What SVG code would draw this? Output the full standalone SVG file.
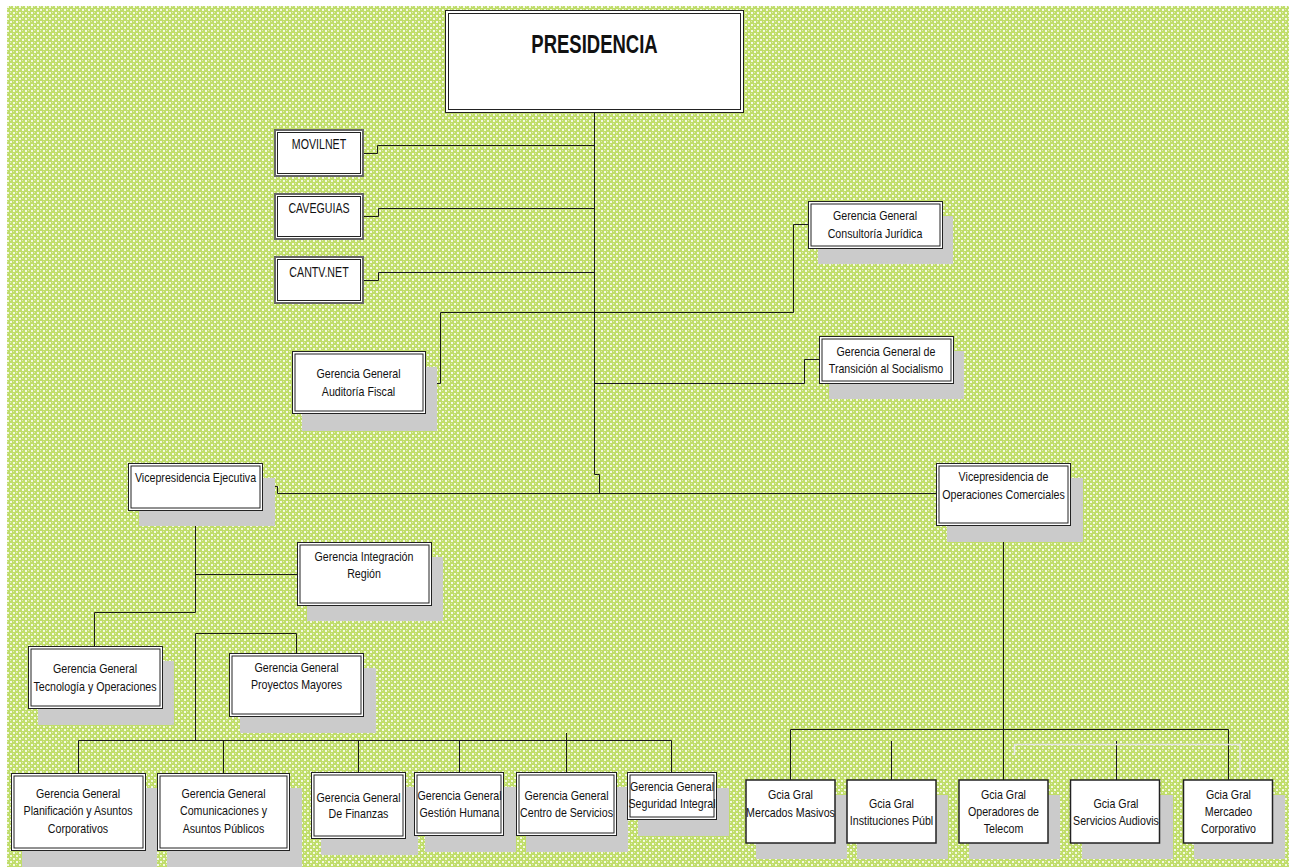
<svg xmlns="http://www.w3.org/2000/svg" width="1293" height="867" viewBox="0 0 1293 867">
<defs>
<pattern id="bg" x="7" y="6" width="6" height="6" patternUnits="userSpaceOnUse">
<rect width="6" height="6" fill="#c0dd6a"/>
<rect x="0" y="0" width="2" height="2" fill="#f4f9e4"/>
<rect x="3" y="3" width="2" height="2" fill="#f4f9e4"/>
<rect x="3" y="0" width="1" height="1" fill="#dcedb0"/>
<rect x="0" y="3" width="1" height="1" fill="#dcedb0"/>
</pattern>
<style>
.sh{fill:#cbcbcb}
.o{fill:#fff;stroke:#222;stroke-width:1}
.i{fill:none;stroke:#222;stroke-width:1}
.o2{fill:#fff;stroke:#666;stroke-width:2}
.s{fill:#fff;stroke:#222;stroke-width:1.5}
.t{font-family:"Liberation Sans",Arial,sans-serif;font-size:13px;fill:#111;text-anchor:middle}
.tb{font-family:"Liberation Sans",Arial,sans-serif;font-size:25px;font-weight:bold;fill:#111;text-anchor:middle}
.c{fill:none;stroke:#1a1a1a;stroke-width:1}
.cg{fill:none;stroke:#e4e4e4;stroke-width:1.5}
</style>
</defs>
<rect width="1293" height="867" fill="#fff"/>
<rect x="7" y="6" width="1282" height="861" fill="url(#bg)"/>

<g id="connectors">
<path class="c" d="M594.5,113 V474.5 H599.5 V493.5"/>
<path class="c" d="M262,486.5 H277.5 V493.5 H936"/>
<path class="c" d="M364,153.5 H377.5 V145.5 H594.5"/>
<path class="c" d="M364,216.5 H378.5 V208.5 H594.5"/>
<path class="c" d="M364,280.5 H378.5 V272.5 H594.5"/>
<path class="c" d="M426,383.5 H440.5 V312.5 H793.5 V224.5 H808"/>
<path class="c" d="M594.5,383.5 H804.5 V359.5 H819"/>
<path class="c" d="M195.5,511 V612.5 H94.5 V646"/>
<path class="c" d="M195.5,574.5 H297"/>
<path class="c" d="M195.5,740.5 V633.5 H296.5 V653"/>
<path class="c" d="M78.5,773 V740.5 H671.5 V772"/>
<path class="c" d="M223.5,740.5 V773"/>
<path class="c" d="M358.5,740.5 V772"/>
<path class="c" d="M459.5,740.5 V772"/>
<path class="c" d="M566.5,733 V772"/>
<path class="c" d="M1003.5,526 V780"/>
<path class="c" d="M790.5,780 V729.5 H1228.5 V780"/>
<path class="c" d="M891.5,741 V780"/>
<path class="c" d="M1116.5,741 V780"/>
<path class="cg" d="M1014.5,755 V744.5 H1240 V772"/>
</g>

<g id="presidencia">
<rect class="o" x="445.5" y="10.5" width="298" height="102"/>
<rect class="i" x="448.5" y="13.5" width="292" height="96"/>
<text class="tb" transform="translate(594.5,53) scale(0.74,1)">PRESIDENCIA</text>
</g>

<g id="movilnet">
<rect class="o2" x="275" y="130" width="88" height="46"/>
<rect class="i" x="277.5" y="132.5" width="83" height="41"/>
<text class="t" transform="translate(319,149) scale(0.76,1)" style="font-size:14px">MOVILNET</text>
</g>

<g id="caveguias">
<rect class="o2" x="275" y="194" width="88" height="45"/>
<rect class="i" x="277.5" y="196.5" width="83" height="40"/>
<text class="t" transform="translate(319,213) scale(0.76,1)" style="font-size:14px">CAVEGUIAS</text>
</g>

<g id="cantvnet">
<rect class="o2" x="275" y="257" width="88" height="46"/>
<rect class="i" x="277.5" y="259.5" width="83" height="41"/>
<text class="t" transform="translate(319,276.5) scale(0.76,1)" style="font-size:14px">CANTV.NET</text>
</g>

<g id="consultoria">
<rect class="sh" x="818" y="216" width="135" height="48"/>
<rect class="o" x="808.5" y="201.5" width="134" height="47"/>
<rect class="i" x="811" y="204" width="129" height="42"/>
<text class="t" transform="translate(875,220) scale(0.82,1)"><tspan x="0">Gerencia General</tspan><tspan x="0" dy="18">Consultoría Jurídica</tspan></text>
</g>

<g id="auditoria">
<rect class="sh" x="302" y="367" width="135" height="64"/>
<rect class="o" x="292.5" y="351.5" width="133" height="62"/>
<rect class="i" x="295" y="354" width="128" height="57"/>
<text class="t" transform="translate(358.5,378) scale(0.82,1)"><tspan x="0">Gerencia General</tspan><tspan x="0" dy="18">Auditoría Fiscal</tspan></text>
</g>

<g id="transicion">
<rect class="sh" x="829" y="351" width="135" height="48"/>
<rect class="o" x="819.5" y="336.5" width="134" height="47"/>
<rect class="i" x="822" y="339" width="129" height="42"/>
<text class="t" transform="translate(886,356) scale(0.82,1)"><tspan x="0">Gerencia General de</tspan><tspan x="0" dy="17">Transición al Socialismo</tspan></text>
</g>

<g id="vp-ejecutiva">
<rect class="sh" x="139" y="478" width="136" height="48"/>
<rect class="o" x="128.5" y="463.5" width="134" height="47"/>
<rect class="i" x="131" y="466" width="129" height="42"/>
<text class="t" transform="translate(195.5,482) scale(0.82,1)">Vicepresidencia Ejecutiva</text>
</g>

<g id="integracion">
<rect class="sh" x="307" y="557" width="136" height="64"/>
<rect class="o" x="297.5" y="542.5" width="134" height="63"/>
<rect class="i" x="300" y="545" width="129" height="58"/>
<text class="t" transform="translate(364,561) scale(0.82,1)"><tspan x="0">Gerencia Integración</tspan><tspan x="0" dy="17.5">Región</tspan></text>
</g>

<g id="vp-operaciones">
<rect class="sh" x="947" y="478" width="136" height="64"/>
<rect class="o" x="936.5" y="463.5" width="134" height="62"/>
<rect class="i" x="939" y="466" width="129" height="57"/>
<text class="t" transform="translate(1003.5,481) scale(0.82,1)"><tspan x="0">Vicepresidencia de</tspan><tspan x="0" dy="18.5">Operaciones Comerciales</tspan></text>
</g>

<g id="tecnologia">
<rect class="sh" x="38" y="661" width="136" height="64"/>
<rect class="o" x="28.5" y="646.5" width="134" height="62"/>
<rect class="i" x="31" y="649" width="129" height="57"/>
<text class="t" transform="translate(95,673) scale(0.82,1)"><tspan x="0">Gerencia General</tspan><tspan x="0" dy="18">Tecnología y Operaciones</tspan></text>
</g>

<g id="proyectos">
<rect class="sh" x="240" y="668" width="136" height="65"/>
<rect class="o" x="229.5" y="653.5" width="134" height="63"/>
<rect class="i" x="232" y="656" width="129" height="58"/>
<text class="t" transform="translate(296.5,672) scale(0.82,1)"><tspan x="0">Gerencia General</tspan><tspan x="0" dy="17">Proyectos Mayores</tspan></text>
</g>

<g id="planificacion">
<rect class="sh" x="22" y="788" width="135" height="79"/>
<rect class="o" x="11.5" y="773.5" width="134" height="77"/>
<rect class="i" x="14" y="776" width="129" height="72"/>
<text class="t" transform="translate(78,798) scale(0.82,1)"><tspan x="0">Gerencia General</tspan><tspan x="0" dy="17.5">Planificación y Asuntos</tspan><tspan x="0" dy="17.5">Corporativos</tspan></text>
</g>

<g id="comunicaciones">
<rect class="sh" x="167" y="788" width="135" height="79"/>
<rect class="o" x="157.5" y="773.5" width="132" height="77"/>
<rect class="i" x="160" y="776" width="127" height="72"/>
<text class="t" transform="translate(223.5,798) scale(0.82,1)"><tspan x="0">Gerencia General</tspan><tspan x="0" dy="17.5">Comunicaciones y</tspan><tspan x="0" dy="17.5">Asuntos Públicos</tspan></text>
</g>

<g id="finanzas">
<rect class="sh" x="321" y="787" width="97" height="68"/>
<rect class="o" x="311.5" y="772.5" width="94" height="66"/>
<rect class="i" x="314" y="775" width="89" height="61"/>
<text class="t" transform="translate(358.5,802) scale(0.82,1)"><tspan x="0">Gerencia General</tspan><tspan x="0" dy="16.5">De Finanzas</tspan></text>
</g>

<g id="gestion-humana">
<rect class="sh" x="425" y="787" width="91" height="65"/>
<rect class="o" x="414.5" y="772.5" width="89" height="63"/>
<rect class="i" x="417" y="775" width="84" height="58"/>
<text class="t" transform="translate(459.5,800) scale(0.82,1)"><tspan x="0">Gerencia General</tspan><tspan x="0" dy="16.8">Gestión Humana</tspan></text>
</g>

<g id="centro-servicios">
<rect class="sh" x="526" y="787" width="102" height="65"/>
<rect class="o" x="516.5" y="772.5" width="100" height="63"/>
<rect class="i" x="519" y="775" width="95" height="58"/>
<text class="t" transform="translate(566.5,799.5) scale(0.82,1)"><tspan x="0">Gerencia General</tspan><tspan x="0" dy="17.3">Centro de Servicios</tspan></text>
</g>

<g id="seguridad">
<rect class="sh" x="638" y="788" width="91" height="48"/>
<rect class="o" x="627.5" y="772.5" width="89" height="47"/>
<rect class="i" x="630" y="775" width="84" height="42"/>
<text class="t" transform="translate(672,791) scale(0.82,1)"><tspan x="0">Gerencia General</tspan><tspan x="0" dy="17.5">Seguridad Integral</tspan></text>
</g>

<g id="mercados-masivos">
<rect class="sh" x="756" y="795" width="91" height="64"/>
<rect class="s" x="746" y="780" width="89" height="63"/>
<text class="t" transform="translate(790.5,799) scale(0.82,1)"><tspan x="0">Gcia Gral</tspan><tspan x="0" dy="17.7">Mercados Masivos</tspan></text>
</g>

<g id="instituciones">
<rect class="sh" x="857" y="795" width="91" height="64"/>
<rect class="s" x="847" y="780" width="89" height="63"/>
<text class="t" transform="translate(891.5,807.5) scale(0.82,1)"><tspan x="0">Gcia Gral</tspan><tspan x="0" dy="17.7">Instituciones Públ</tspan></text>
</g>

<g id="operadores">
<rect class="sh" x="969" y="795" width="91" height="64"/>
<rect class="s" x="959" y="780" width="89" height="63"/>
<text class="t" transform="translate(1003.5,798.5) scale(0.82,1)"><tspan x="0">Gcia Gral</tspan><tspan x="0" dy="17.5">Operadores de</tspan><tspan x="0" dy="17.5">Telecom</tspan></text>
</g>

<g id="servicios-audiovis">
<rect class="sh" x="1082" y="795" width="91" height="64"/>
<rect class="s" x="1070.5" y="780" width="89" height="63"/>
<text class="t" transform="translate(1116,807.5) scale(0.82,1)"><tspan x="0">Gcia Gral</tspan><tspan x="0" dy="17.7">Servicios Audiovis</tspan></text>
</g>

<g id="mercadeo">
<rect class="sh" x="1194" y="795" width="91" height="64"/>
<rect class="s" x="1183.5" y="780" width="89" height="63"/>
<text class="t" transform="translate(1228.5,798.5) scale(0.82,1)"><tspan x="0">Gcia Gral</tspan><tspan x="0" dy="17.5">Mercadeo</tspan><tspan x="0" dy="17.5">Corporativo</tspan></text>
</g>
</svg>
